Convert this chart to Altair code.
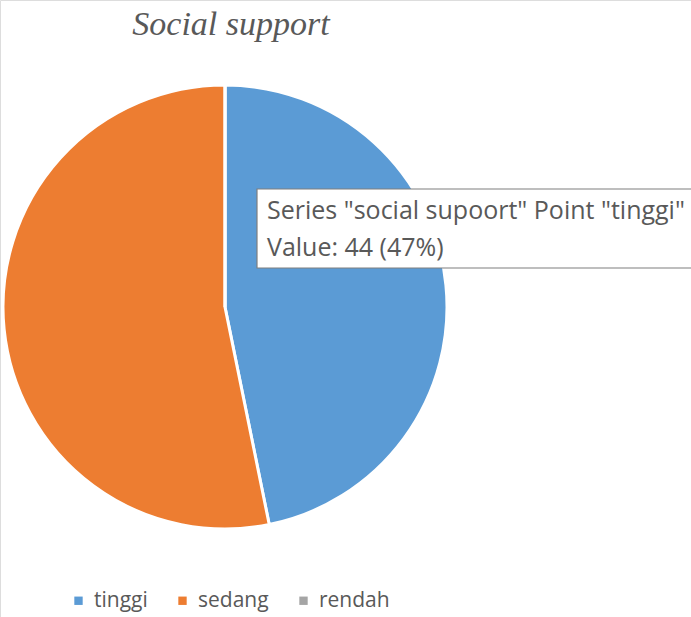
import altair as alt
import pandas as pd

categories = ["tinggi", "sedang", "rendah"]
values = [44, 50, 0]
colors = ["#5B9BD5", "#ED7D31", "#A5A5A5"]
title_text = "Social support"
tip_line1 = 'Series "social supoort" Point "tinggi"'
tip_line2 = "Value: 44 (47%)"

df = pd.DataFrame({"cat": categories, "val": values, "ord": list(range(len(categories)))})
one = pd.DataFrame({"a": [0]})

pie = alt.Chart(df).mark_arc(outerRadius=222, stroke="white", strokeWidth=3).encode(
    theta=alt.Theta("val:Q", stack=True),
    order=alt.Order("ord:Q"),
    color=alt.Color(
        "cat:N",
        scale=alt.Scale(domain=categories, range=colors),
        sort=categories,
        legend=alt.Legend(
            title=None,
            orient="none",
            legendX=68,
            legendY=590,
            direction="horizontal",
            symbolType="square",
            symbolSize=70,
            symbolStrokeWidth=0,
            labelFontSize=21,
            labelFont="Open Sans",
            labelColor="#595959",
            columnPadding=24,
            labelOffset=5,
        ),
    ),
    x=alt.value(225),
    y=alt.value(307),
)

title = alt.Chart(one).mark_text(
    text=title_text, font="Liberation Serif", fontStyle="italic", fontSize=34,
    color="#595959", align="center", baseline="alphabetic",
).encode(x=alt.value(231), y=alt.value(35))

box = alt.Chart(one).mark_rect(fill="white", stroke="#7F7F7F", strokeWidth=1.2).encode(
    x=alt.value(257), x2=alt.value(700), y=alt.value(189), y2=alt.value(268)
)

t1 = alt.Chart(one).mark_text(
    text=tip_line1, font="Open Sans", fontSize=25, color="#595959",
    align="left", baseline="alphabetic",
).encode(x=alt.value(267), y=alt.value(219))

t2 = alt.Chart(one).mark_text(
    text=tip_line2, font="Open Sans", fontSize=25, color="#595959",
    align="left", baseline="alphabetic",
).encode(x=alt.value(267), y=alt.value(256))

chart = alt.layer(pie, title, box, t1, t2).properties(
    width=691, height=617, autosize=alt.AutoSizeParams(type="none"), padding=0
).configure_view(stroke=None).configure(background="white")

chart.save("out.html", embed_options={"renderer": "svg", "actions": False})
